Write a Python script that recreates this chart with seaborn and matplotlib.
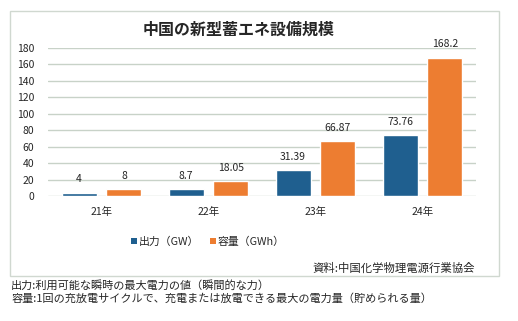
import matplotlib
matplotlib.use("Agg")
import matplotlib.pyplot as plt
import seaborn as sns
import pandas as pd
from matplotlib.patches import Rectangle, Patch

categories = ["21年", "22年", "23年", "24年"]
output_gw = [4, 8.7, 31.39, 73.76]
capacity_gwh = [8, 18.05, 66.87, 168.2]
output_labels = ["4", "8.7", "31.39", "73.76"]
capacity_labels = ["8", "18.05", "66.87", "168.2"]
series_names = ["出力（GW）", "容量（GWh）"]
yticks = [0, 20, 40, 60, 80, 100, 120, 140, 160, 180]

sns.set_theme(style="white")
plt.rcParams['font.family'] = ['Noto Sans CJK JP', 'DejaVu Sans']

df = pd.DataFrame({
    "cat": categories * 2,
    "val": output_gw + capacity_gwh,
    "series": [series_names[0]] * 4 + [series_names[1]] * 4,
})
colors = ["#1f5f8f", "#ed7d31"]

W, H = 518, 321
fig = plt.figure(figsize=(W / 100, H / 100), dpi=100)
ax = fig.add_axes([48 / W, 1 - 196 / H, (476 - 48) / W, (196 - 48) / H])

sns.barplot(data=df, x="cat", y="val", hue="series", palette=colors,
            width=0.84, gap=0.22, ax=ax, legend=False, saturation=1)

ax.set_ylim(0, 180)
ax.set_xlim(-0.5, 3.5)
ax.set_yticks(yticks)
ax.set_yticklabels([str(t) for t in yticks], fontsize=7.5)
ax.yaxis.grid(True, color="#c8d2c8", linewidth=1)
ax.set_axisbelow(True)
for s in ax.spines.values():
    s.set_visible(False)
ax.tick_params(axis="y", length=0, pad=10)
ax.tick_params(axis="x", length=0, pad=8, labelsize=7.5)
ax.set_xlabel("")
ax.set_ylabel("")

for cont, labels in zip(ax.containers, [output_labels, capacity_labels]):
    ax.bar_label(cont, labels=labels, padding=6, fontsize=7.5)

fig.text(239 / W, 1 - 30 / H, "中国の新型蓄エネ設備規模", ha="center", va="center",
         fontsize=11.5, fontweight="bold")

handles = [Patch(facecolor=c, edgecolor="none") for c in colors]
fig.legend(handles, series_names, loc="center", bbox_to_anchor=(208 / W, 1 - 242 / H),
           ncol=2, frameon=False, fontsize=7.8, handlelength=0.5, handleheight=0.5,
           handletextpad=0.2, columnspacing=1.0)

fig.text(475 / W, 1 - 268 / H, "資料:中国化学物理電源行業協会", ha="right", va="center",
         fontsize=8.2)

fig.patches.append(Rectangle((10 / W, 1 - 276 / H), 489 / W, 265 / H,
                             transform=fig.transFigure, fill=False,
                             edgecolor="#d0d8d0", linewidth=1))

fig.text(11 / W, 1 - 285 / H, "出力:利用可能な瞬時の最大電力の値（瞬間的な力）",
         ha="left", va="center", fontsize=8)
fig.text(11 / W, 1 - 299 / H, "容量:1回の充放電サイクルで、充電または放電できる最大の電力量（貯められる量）",
         ha="left", va="center", fontsize=8)

fig.savefig("out.png", dpi=100)
